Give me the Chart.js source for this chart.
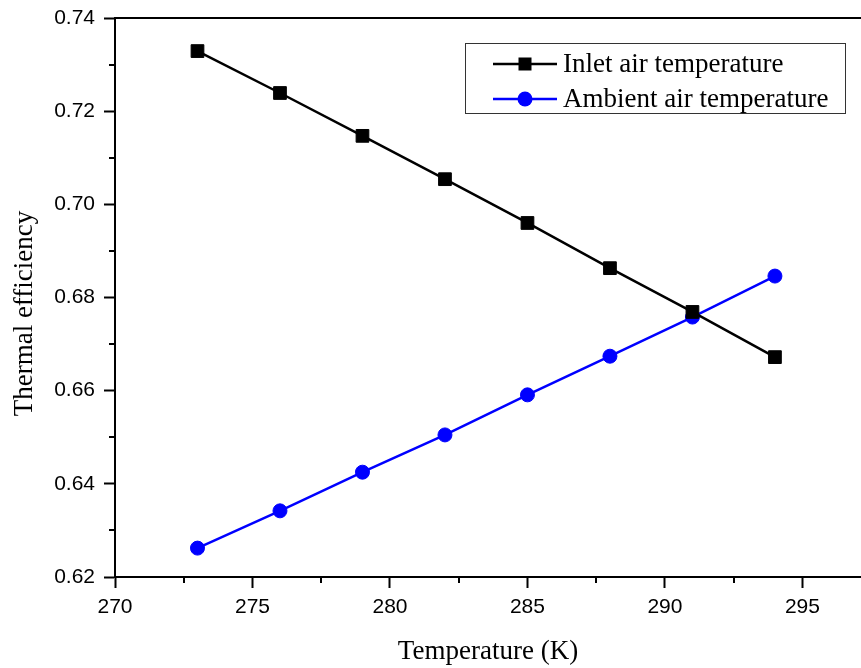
<!DOCTYPE html>
<html>
<head>
<meta charset="utf-8">
<title>Thermal efficiency vs temperature</title>
<script src="https://cdn.jsdelivr.net/npm/chart.js@4"></script>
<style>
  html, body { margin: 0; padding: 0; background: #fff; overflow: hidden; }
  #wrap { position: relative; width: 861px; height: 668px; }
</style>
</head>
<body>
<div id="wrap"><canvas id="effChart"></canvas></div>
<script>
// temperatures (K) and thermal efficiency for each case
const temps = [273, 276, 279, 282, 285, 288, 291, 294];
const inletEff = [0.7329, 0.7239, 0.7147, 0.7054, 0.6960, 0.6863, 0.6769, 0.6672];
const ambientEff = [0.6262, 0.6342, 0.6425, 0.6505, 0.6591, 0.6674, 0.6758, 0.6846];
const seriesNames = ['Inlet air temperature', 'Ambient air temperature'];
const seriesColors = ['#000000', '#0000ff'];
const seriesMarkers = ['rect', 'circle'];
const xRange = [270, 297.13];
const yRange = [0.62, 0.74];
const xTitle = 'Temperature (K)';
const yTitle = 'Thermal efficiency';

const toPoints = (vals) => temps.map((t, i) => ({ x: t, y: vals[i] }));

// x ticks every 2.5 K, labels every 5 K
const isMajorX = (v) => Math.abs(v / 5 - Math.round(v / 5)) < 1e-6;
const onGridX = (v) => Math.abs(v / 2.5 - Math.round(v / 2.5)) < 1e-6;
// y ticks every 0.01, labels every 0.02
const isMajorY = (v) => Math.round(v * 100) % 2 === 0;

const serif = '"Liberation Serif", "Times New Roman", serif';

// top frame line, minor tick marks, y title and the boxed legend
const framePlugin = {
    id: 'framePlugin',
    afterDraw(chart) {
        const { ctx, chartArea: a, scales } = chart;
        ctx.save();
        ctx.strokeStyle = '#000';
        ctx.lineWidth = 2;

        ctx.beginPath();
        ctx.moveTo(a.left, a.top);
        ctx.lineTo(a.right, a.top);
        ctx.stroke();

        scales.y.ticks.forEach((t) => {
            if (isMajorY(t.value)) return;
            const py = Math.round(scales.y.getPixelForValue(t.value));
            ctx.beginPath();
            ctx.moveTo(a.left, py);
            ctx.lineTo(a.left - 6, py);
            ctx.stroke();
        });
        scales.x.ticks.forEach((t) => {
            if (!onGridX(t.value) || isMajorX(t.value)) return;
            const px = Math.round(scales.x.getPixelForValue(t.value));
            ctx.beginPath();
            ctx.moveTo(px, a.bottom);
            ctx.lineTo(px, a.bottom + 6);
            ctx.stroke();
        });

        // y axis title, set a little below the axis middle
        ctx.save();
        ctx.translate(25, (a.top + a.bottom) / 2 + 16);
        ctx.rotate(-Math.PI / 2);
        ctx.fillStyle = '#000';
        ctx.font = '27px ' + serif;
        ctx.textAlign = 'center';
        ctx.textBaseline = 'middle';
        ctx.fillText(yTitle, 0, 0);
        ctx.restore();

        // legend box
        const bx = 465, by = 43, bw = 380, bh = 70;
        ctx.fillStyle = '#fff';
        ctx.fillRect(bx, by, bw, bh);
        ctx.lineWidth = 1;
        ctx.strokeStyle = '#333';
        ctx.strokeRect(bx + 0.5, by + 0.5, bw, bh);

        chart.data.datasets.forEach((ds, i) => {
            const cy = by + 21 + i * 35;
            ctx.strokeStyle = ds.borderColor;
            ctx.lineWidth = 2.5;
            ctx.beginPath();
            ctx.moveTo(493, cy);
            ctx.lineTo(557, cy);
            ctx.stroke();
            ctx.fillStyle = ds.borderColor;
            if (ds.pointStyle === 'rect') {
                ctx.fillRect(525 - 6.5, cy - 6.5, 13, 13);
            } else {
                ctx.beginPath();
                ctx.arc(525, cy, 7.5, 0, Math.PI * 2);
                ctx.fill();
            }
            ctx.fillStyle = '#000';
            ctx.font = '27px ' + serif;
            ctx.textBaseline = 'middle';
            ctx.textAlign = 'left';
            ctx.fillText(ds.label, 563, cy + 1);
        });
        ctx.restore();
    }
};

const tickFont = { family: '"Liberation Sans", Arial, sans-serif', size: 21 };
const titleFont = { family: serif, size: 27 };

new Chart(document.getElementById('effChart'), {
    type: 'line',
    data: {
        datasets: [inletEff, ambientEff].map((vals, i) => ({
            label: seriesNames[i],
            data: toPoints(vals),
            borderColor: seriesColors[i],
            backgroundColor: seriesColors[i],
            borderWidth: 2.5,
            pointStyle: seriesMarkers[i],
            pointRadius: i === 0 ? 9 : 7,
            pointBorderWidth: 1,
            pointBackgroundColor: seriesColors[i],
            pointBorderColor: seriesColors[i],
            tension: 0,
        })),
    },
    options: {
        responsive: true,
        maintainAspectRatio: false,
        animation: false,
        layout: {
            autoPadding: false,
            padding: { top: 18, right: 0, left: 0, bottom: 0 },
        },
        plugins: {
            legend: { display: false },
            tooltip: { enabled: false },
        },
        scales: {
            x: {
                type: 'linear',
                min: xRange[0],
                max: xRange[1],
                afterFit: (scale) => {
                    scale.height = 91;
                    scale.paddingLeft = 0;
                    scale.paddingRight = 0;
                },
                border: { display: true, color: '#000', width: 2 },
                grid: {
                    drawOnChartArea: false,
                    drawTicks: true,
                    tickLength: 11,
                    tickWidth: 2,
                    tickColor: (c) => (isMajorX(c.tick.value) ? '#000' : 'rgba(0,0,0,0)'),
                },
                ticks: {
                    stepSize: 2.5,
                    includeBounds: false,
                    autoSkip: false,
                    maxRotation: 0,
                    padding: 7,
                    color: '#000',
                    font: tickFont,
                    callback: (v) => (isMajorX(v) ? String(Math.round(v)) : ''),
                },
                title: {
                    display: true,
                    text: xTitle,
                    color: '#000',
                    font: titleFont,
                    padding: { top: 0, bottom: 0 },
                },
            },
            y: {
                min: yRange[0],
                max: yRange[1],
                afterFit: (scale) => {
                    scale.width = 115;
                    scale.paddingTop = 0;
                    scale.paddingBottom = 0;
                },
                border: { display: true, color: '#000', width: 2 },
                grid: {
                    drawOnChartArea: false,
                    drawTicks: true,
                    tickLength: 11,
                    tickWidth: 2,
                    tickColor: (c) => (isMajorY(c.tick.value) ? '#000' : 'rgba(0,0,0,0)'),
                },
                ticks: {
                    stepSize: 0.01,
                    autoSkip: false,
                    padding: 9,
                    color: '#000',
                    font: tickFont,
                    callback: (v) => (isMajorY(v) ? v.toFixed(2) : ''),
                },
            },
        },
    },
    plugins: [framePlugin],
});
</script>
</body>
</html>
